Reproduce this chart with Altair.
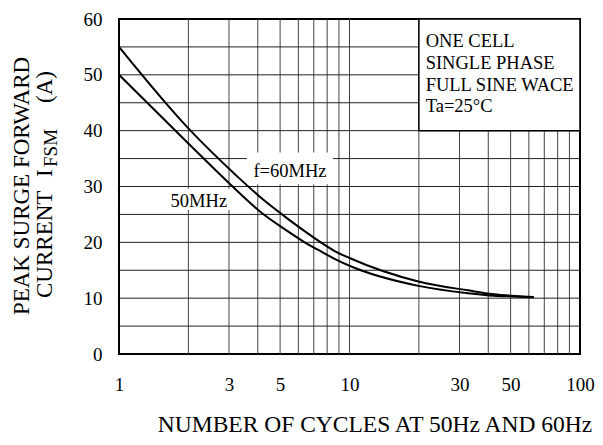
import altair as alt
import pandas as pd

# ---- data (x read against the true log scale) ----
cycles = [1, 2.0, 3.26, 4.18, 5.21, 6.34, 7.57, 8.66, 10.0, 19.9, 32.6, 42.3, 52.1, 63.0]
i_60 = [55.0, 40.4, 31.8, 27.8, 24.7, 22.1, 19.9, 18.4, 17.2, 13.0, 11.4, 10.7, 10.4, 10.2]
i_50 = [50.0, 37.7, 29.2, 25.2, 22.4, 20.1, 18.3, 17.0, 15.8, 12.2, 10.9, 10.45, 10.3, 10.15]

x_grid = [2, 3, 4, 5, 6, 7, 8, 9, 10, 20, 30, 40, 50, 60, 70, 80, 90]
y_grid = [5, 10, 15, 20, 25, 30, 35, 40, 45, 50, 55]
x_ticks = [1, 3, 5, 10, 30, 50, 100]
y_ticks = [0, 10, 20, 30, 40, 50, 60]

box_lines = ["ONE CELL", "SINGLE PHASE", "FULL SINE WACE", "Ta=25°C"]
box_line_y = [55.0, 51.0, 47.1, 43.4]
box_text_x = 21.4

curve_labels = ["f=60MHz", "50MHz"]
curve_label_x = [5.52, 2.22]
curve_label_y = [31.7, 26.4]
label_bg_x = [3.59, 1.615]
label_bg_x2 = [8.48, 3.06]
label_bg_y = [30.4, 25.8]
label_bg_y2 = [36.1, 29.6]

FONT = "Liberation Serif"

xs = alt.Scale(type="log", domain=[1, 100], nice=False)
ys = alt.Scale(domain=[0, 60], nice=False)

X_AX = alt.Axis(values=x_ticks, format="d", title=None, grid=False,
                ticks=False, tickSize=0, domain=False,
                labelFont=FONT, labelFontSize=19, labelColor="black",
                labelPadding=21, labelFlush=False)
Y_AX = alt.Axis(values=y_ticks, title=None, grid=False,
                ticks=False, tickSize=0, domain=False,
                labelFont=FONT, labelFontSize=19, labelColor="black",
                labelPadding=17)

curves = pd.DataFrame({
    "cycles": cycles * 2,
    "ifsm": i_60 + i_50,
    "series": ["60"] * len(cycles) + ["50"] * len(cycles),
})

vgrid = alt.Chart(pd.DataFrame({"gx": x_grid})).mark_rule(
    color="#444", strokeWidth=1
).encode(x=alt.X("gx:Q", scale=xs, axis=X_AX))

hgrid = alt.Chart(pd.DataFrame({"gy": y_grid})).mark_rule(
    color="#222", strokeWidth=1
).encode(y=alt.Y("gy:Q", scale=ys, axis=Y_AX))

box = alt.Chart(pd.DataFrame({"bx": [20], "bx2": [100], "by": [40], "by2": [60]})).mark_rect(
    fill="white", stroke="black", strokeWidth=1.5
).encode(
    x=alt.X("bx:Q", scale=xs, axis=X_AX), x2="bx2:Q",
    y=alt.Y("by:Q", scale=ys, axis=Y_AX), y2="by2:Q",
)

lines = alt.Chart(curves).mark_line(
    color="black", strokeWidth=2, interpolate="monotone"
).encode(
    x=alt.X("cycles:Q", scale=xs, axis=X_AX),
    y=alt.Y("ifsm:Q", scale=ys, axis=Y_AX),
    detail="series:N",
)

lab_bg = alt.Chart(pd.DataFrame({
    "lx": label_bg_x, "lx2": label_bg_x2, "ly": label_bg_y, "ly2": label_bg_y2
})).mark_rect(fill="white").encode(
    x=alt.X("lx:Q", scale=xs, axis=X_AX), x2="lx2:Q",
    y=alt.Y("ly:Q", scale=ys, axis=Y_AX), y2="ly2:Q",
)

lab_txt = alt.Chart(pd.DataFrame({
    "tx": curve_label_x, "ty": curve_label_y, "t": curve_labels
})).mark_text(
    font=FONT, fontSize=18.5, color="black", align="center", baseline="alphabetic"
).encode(
    x=alt.X("tx:Q", scale=xs, axis=X_AX),
    y=alt.Y("ty:Q", scale=ys, axis=Y_AX),
    text="t:N",
)

box_txt = alt.Chart(pd.DataFrame({
    "tx": [box_text_x] * len(box_lines), "ty": box_line_y, "t": box_lines
})).mark_text(
    font=FONT, fontSize=18.5, color="black", align="left", baseline="alphabetic"
).encode(
    x=alt.X("tx:Q", scale=xs, axis=X_AX),
    y=alt.Y("ty:Q", scale=ys, axis=Y_AX),
    text="t:N",
)


def pixel_text(text, x, y, size, angle=0, align="center"):
    props = dict(font=FONT, fontSize=size, color="black", align=align,
                 baseline="alphabetic")
    if angle:
        props["angle"] = angle
    return alt.Chart(pd.DataFrame({"t": [text]})).mark_text(**props).encode(
        x=alt.value(x), y=alt.value(y), text="t:N"
    )


ytitle1 = pixel_text("PEAK SURGE FORWARD", -90, 167, 23, angle=270)
ytitle2a = pixel_text("CURRENT", -67, 279, 23, angle=270, align="left")
ytitle2b = pixel_text("I", -67, 158, 23, angle=270, align="left")
ytitle2c = pixel_text("FSM", -62, 148, 19, angle=270, align="left")
ytitle2d = pixel_text("(A)", -67, 84, 23, angle=270, align="left")
xtitle = pixel_text("NUMBER OF CYCLES AT 50Hz AND 60Hz", 256, 413, 23.5)

chart = alt.layer(
    vgrid, hgrid, box, lines, lab_bg, lab_txt, box_txt,
    ytitle1, ytitle2a, ytitle2b, ytitle2c, ytitle2d, xtitle
).properties(
    width=461, height=335,
    autosize=alt.AutoSizeParams(type="none"),
    padding={"left": 111, "top": 11, "right": 15, "bottom": 83},
    background="white",
).configure_view(stroke="black", strokeWidth=2)

chart.save("out.html", embed_options={"renderer": "svg", "actions": False})
